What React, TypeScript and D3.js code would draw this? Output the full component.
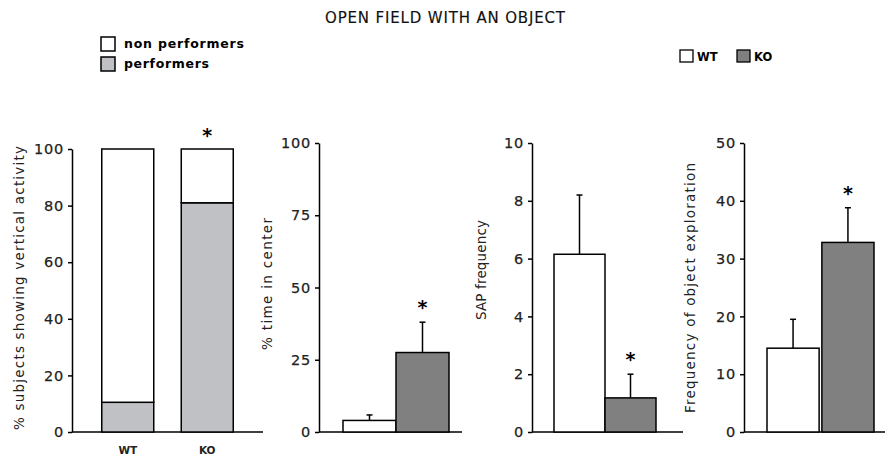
import React, { useEffect, useRef } from 'react';
import * as d3 from 'd3';

const groups = ['WT', 'KO'];

// panel 1: stacked % of subjects
const performers = [10.5, 81];
const nonPerformers = [89.5, 19];
const pctTicks = [0, 20, 40, 60, 80, 100];

// panel 2: % time in center
const timeCenter = [4, 27.5];
const timeCenterErr = [1.9, 10.5];
const timeTicks = [0, 25, 50, 75, 100];

// panel 3: SAP frequency
const sapFreq = [6.15, 1.18];
const sapErr = [2.05, 0.82];
const sapTicks = [0, 2, 4, 6, 8, 10];

// panel 4: object exploration
const objExpl = [14.5, 32.8];
const objErr = [5, 6];
const objTicks = [0, 10, 20, 30, 40, 50];

const groupFill = ['#ffffff', '#808080'];
const FONT = 'DejaVu Sans, Verdana, sans-serif';

export default function App() {
  const ref = useRef<SVGSVGElement>(null);

  useEffect(() => {
    document.body.style.margin = '0';
    if (!ref.current) return;
    const svg = d3.select(ref.current);
    svg.selectAll('*').remove();

    const yTop = 143;
    const yBottom = 432;

    svg.append('text')
      .attr('x', 325).attr('y', 23)
      .attr('font-family', FONT).attr('font-size', 15).attr('fill', '#111')
      .attr('textLength', 240).attr('lengthAdjust', 'spacing')
      .attr('stroke', '#111').attr('stroke-width', 0.15)
      .text('OPEN FIELD WITH AN OBJECT');

    // legend left
    const leg1 = [
      { label: 'non performers', fill: '#ffffff', y: 37, len: 120 },
      { label: 'performers', fill: '#c0c1c5', y: 57, len: 85 },
    ];
    leg1.forEach(l => {
      svg.append('rect').attr('x', 101).attr('y', l.y).attr('width', 14).attr('height', 14)
        .attr('fill', l.fill).attr('stroke', '#000').attr('stroke-width', 1.5);
      svg.append('text').attr('x', 124).attr('y', l.y + 11)
        .attr('font-family', FONT).attr('font-size', 12.5).attr('font-weight', 'bold')
        .attr('textLength', l.len).attr('lengthAdjust', 'spacing')
        .text(l.label);
    });

    // legend right
    const leg2 = [
      { label: 'WT', fill: groupFill[0], x: 680 },
      { label: 'KO', fill: groupFill[1], x: 737 },
    ];
    leg2.forEach(l => {
      svg.append('rect').attr('x', l.x).attr('y', 50).attr('width', 13).attr('height', 12)
        .attr('fill', l.fill).attr('stroke', '#000').attr('stroke-width', 1.3);
      svg.append('text').attr('x', l.x + 17).attr('y', 61)
        .attr('font-family', FONT).attr('font-size', 11.5).attr('font-weight', 'bold')
        .text(l.label);
    });

    const drawAxes = (
      axisX: number, axisEnd: number, y: d3.ScaleLinear<number, number>,
      ticks: number[], label: string, labelX: number, labelY: number, labelLen: number,
    ) => {
      const g = svg.append('g');
      g.append('g')
        .attr('transform', `translate(${axisX},0)`)
        .call(d3.axisLeft(y).tickValues(ticks).tickSize(4).tickSizeOuter(0).tickFormat(d3.format('d')))
        .call(a => a.select('.domain').attr('stroke', '#000').attr('stroke-width', 1.5))
        .call(a => a.selectAll('.tick line').attr('stroke', '#000').attr('stroke-width', 1.5))
        .call(a => a.selectAll('.tick text')
          .attr('font-family', FONT).attr('font-size', 14.5).attr('fill', '#222')
          .attr('letter-spacing', 0.8).attr('x', -8)
          .attr('stroke', '#222').attr('stroke-width', 0.25));
      g.append('line')
        .attr('x1', axisX).attr('x2', axisEnd)
        .attr('y1', y(0)).attr('y2', y(0))
        .attr('stroke', '#000').attr('stroke-width', 1.5);
      g.append('text')
        .attr('transform', `translate(${labelX},${labelY}) rotate(-90)`)
        .attr('text-anchor', 'middle')
        .attr('font-family', FONT).attr('font-size', 13.5).attr('fill', '#222')
        .attr('textLength', labelLen).attr('lengthAdjust', 'spacing')
        .text(label);
    };

    const star = (x: number, yy: number) => {
      svg.append('text').attr('x', x).attr('y', yy)
        .attr('text-anchor', 'middle')
        .attr('font-family', FONT).attr('font-size', 19).attr('font-weight', 'bold')
        .text('*');
    };

    // panel 1
    {
      const y = d3.scaleLinear().domain([0, 100]).range([yBottom, 149]);
      const x = d3.scaleBand().domain(groups).range([88, 247]).paddingInner(0.346).paddingOuter(0.173);
      drawAxes(72, 263, y, pctTicks, '% subjects showing vertical activity', 24, 288, 284);
      const stack = groups.map((g, i) => ({ g, p: performers[i], n: nonPerformers[i] }));
      svg.append('g').selectAll('rect.p').data(stack).join('rect')
        .attr('x', d => x(d.g)!).attr('width', x.bandwidth())
        .attr('y', d => y(d.p)).attr('height', d => y(0) - y(d.p))
        .attr('fill', '#c0c1c5').attr('stroke', '#000').attr('stroke-width', 1.5);
      svg.append('g').selectAll('rect.n').data(stack).join('rect')
        .attr('x', d => x(d.g)!).attr('width', x.bandwidth())
        .attr('y', d => y(d.p + d.n)).attr('height', d => y(d.p) - y(d.p + d.n))
        .attr('fill', '#fff').attr('stroke', '#000').attr('stroke-width', 1.5);
      groups.forEach(g => {
        svg.append('text').attr('x', x(g)! + x.bandwidth() / 2).attr('y', 454)
          .attr('text-anchor', 'middle').attr('font-family', FONT).attr('font-size', 10.5)
          .attr('font-weight', 'bold').attr('fill', '#222')
          .text(g);
      });
      star(x('KO')! + x.bandwidth() / 2, 142);
    }

    const errorPanel = (
      axisX: number, axisEnd: number, domainMax: number, ticks: number[],
      range: [number, number], padInner: number,
      vals: number[], errs: number[], label: string, labelX: number, labelY: number,
      labelLen: number, starOffset: number,
    ) => {
      const y = d3.scaleLinear().domain([0, domainMax]).range([yBottom, yTop]);
      const x = d3.scaleBand().domain(groups).range(range).paddingInner(padInner).paddingOuter(0);
      drawAxes(axisX, axisEnd, y, ticks, label, labelX, labelY, labelLen);
      const data = groups.map((g, i) => ({ g, v: vals[i], e: errs[i], i }));
      const eg = svg.append('g');
      data.forEach(d => {
        const cx = x(d.g)! + x.bandwidth() / 2;
        eg.append('line').attr('x1', cx).attr('x2', cx)
          .attr('y1', y(d.v)).attr('y2', y(d.v + d.e))
          .attr('stroke', '#000').attr('stroke-width', 1.5);
        eg.append('line').attr('x1', cx - 3).attr('x2', cx + 3)
          .attr('y1', y(d.v + d.e)).attr('y2', y(d.v + d.e))
          .attr('stroke', '#000').attr('stroke-width', 1.5);
      });
      svg.append('g').selectAll('rect').data(data).join('rect')
        .attr('x', d => x(d.g)!).attr('width', x.bandwidth())
        .attr('y', d => y(d.v)).attr('height', d => y(0) - y(d.v))
        .attr('fill', d => groupFill[d.i]).attr('stroke', '#000').attr('stroke-width', 1.5);
      const ko = data[1];
      star(x('KO')! + x.bandwidth() / 2, y(ko.v + ko.e) - starOffset);
    };

    errorPanel(319, 462, 100, timeTicks, [343, 449], 0, timeCenter, timeCenterErr,
      '% time in center', 272, 284, 132, 8);
    errorPanel(532, 683, 10, sapTicks, [554, 656], 0, sapFreq, sapErr,
      'SAP frequency', 486, 270, 100, 8);
    errorPanel(744, 885, 50, objTicks, [767, 874], 0.05, objExpl, objErr,
      'Frequency of object exploration', 695, 288, 250, 8);
  }, []);

  return <svg ref={ref} width={885} height={460} style={{ display: 'block', background: '#fff' }} />;
}
